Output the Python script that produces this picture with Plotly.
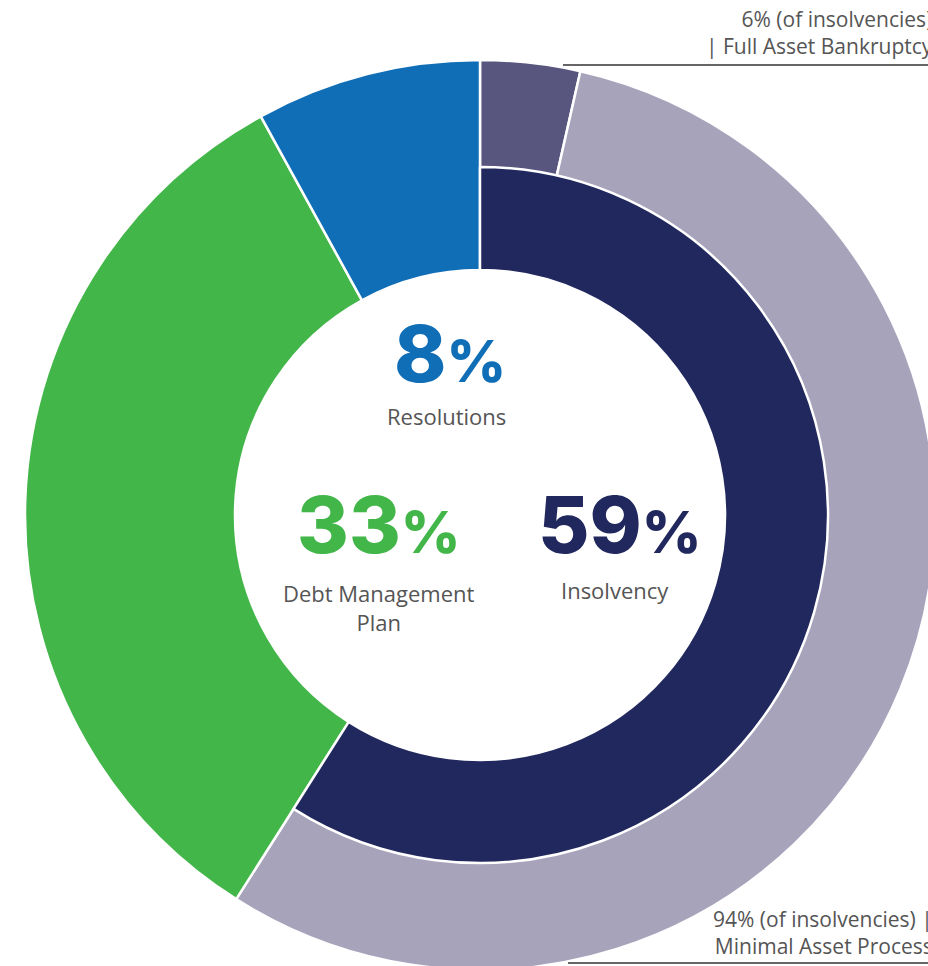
import plotly.graph_objects as go

# Share of outcomes (percent of all cases)
insolvency_share = 59
dmp_share = 33
resolutions_share = 8

# Split of insolvencies (percent of insolvencies)
full_asset_pct = 6
minimal_asset_pct = 94

outer_labels = ["Full Asset Bankruptcy", "Minimal Asset Process", "Debt Management Plan", "Resolutions"]
outer_values = [
    insolvency_share * full_asset_pct / 100,
    insolvency_share * minimal_asset_pct / 100,
    dmp_share,
    resolutions_share,
]
outer_colors = ["#58567E", "#A7A3BB", "#43B649", "#106EB7"]

inner_labels = ["Insolvency", ""]
inner_values = [insolvency_share, dmp_share + resolutions_share]
inner_colors = ["#21285E", "rgba(0,0,0,0)"]

# Canvas and ring geometry (pixels)
W, H = 960, 980
CX, CY = 480, 515
R_OUT, R_MID, R_IN = 455, 348, 245


def domain(r):
    return dict(
        x=[(CX - r) / W, (CX + r) / W],
        y=[(H - CY - r) / H, (H - CY + r) / H],
    )


fig = go.Figure()

fig.add_trace(go.Pie(
    labels=outer_labels,
    values=outer_values,
    sort=False,
    direction="clockwise",
    rotation=0,
    hole=R_IN / R_OUT,
    domain=domain(R_OUT),
    marker=dict(colors=outer_colors, line=dict(color="white", width=2.5)),
    textinfo="none",
    showlegend=False,
    hoverinfo="label",
))

fig.add_trace(go.Pie(
    labels=inner_labels,
    values=inner_values,
    sort=False,
    direction="clockwise",
    rotation=0,
    hole=R_IN / R_MID,
    domain=domain(R_MID),
    marker=dict(colors=inner_colors, line=dict(color=["white", "rgba(0,0,0,0)"], width=[2.5, 0])),
    textinfo="none",
    showlegend=False,
    hoverinfo="skip",
))

NUM_FONT = "Inter, 'Open Sans', sans-serif"
FONT = "'Open Sans', 'Noto Sans', sans-serif"
GREY = "#555555"


def px(x, y):
    return x / W, 1 - y / H


def big_number(value, color, x, y):
    ax, ay = px(x, y)
    return dict(
        x=ax, y=ay, xref="paper", yref="paper", showarrow=False,
        xanchor="center", yanchor="middle",
        text=f"{value}<span style='font-size:58px'>%</span>",
        font=dict(family=NUM_FONT, size=79, color=color, weight=800),
    )


def caption(text, x, y, size=22):
    ax, ay = px(x, y)
    return dict(
        x=ax, y=ay, xref="paper", yref="paper", showarrow=False,
        xanchor="center", yanchor="middle", align="center",
        text=text, font=dict(family=FONT, size=size, color=GREY),
    )


annotations = [
    big_number(resolutions_share, "#106EB7", 450, 353),
    caption("Resolutions", 446, 416),
    big_number(dmp_share, "#43B649", 378, 524),
    caption("Debt Management<br>Plan", 379, 607),
    big_number(insolvency_share, "#21285E", 619, 524),
    caption("Insolvency", 615, 590),
]

tx, ty = px(935, 33)
annotations.append(dict(
    x=tx, y=ty, xref="paper", yref="paper", showarrow=False,
    xanchor="right", yanchor="middle", align="right",
    text=f"{full_asset_pct}% (of insolvencies)<br>| Full Asset Bankruptcy",
    font=dict(family=FONT, size=21, color=GREY),
))
bx, by = px(935, 932)
annotations.append(dict(
    x=bx, y=by, xref="paper", yref="paper", showarrow=False,
    xanchor="right", yanchor="middle", align="right",
    text=f"{minimal_asset_pct}% (of insolvencies) |<br>Minimal Asset Process",
    font=dict(family=FONT, size=21, color=GREY),
))

shapes = [
    dict(type="line", xref="paper", yref="paper",
         x0=563 / W, x1=1, y0=1 - 65 / H, y1=1 - 65 / H,
         line=dict(color="#333333", width=1.5)),
    dict(type="line", xref="paper", yref="paper",
         x0=568 / W, x1=1, y0=1 - 963 / H, y1=1 - 963 / H,
         line=dict(color="#333333", width=1.5)),
]

fig.update_layout(
    width=W, height=H,
    margin=dict(l=0, r=0, t=0, b=0),
    paper_bgcolor="white",
    plot_bgcolor="white",
    annotations=annotations,
    shapes=shapes,
)

fig.write_html(
    "out.html",
    config={"displayModeBar": False},
    post_script="document.documentElement.style.overflow='hidden';document.body.style.overflow='hidden';",
)
